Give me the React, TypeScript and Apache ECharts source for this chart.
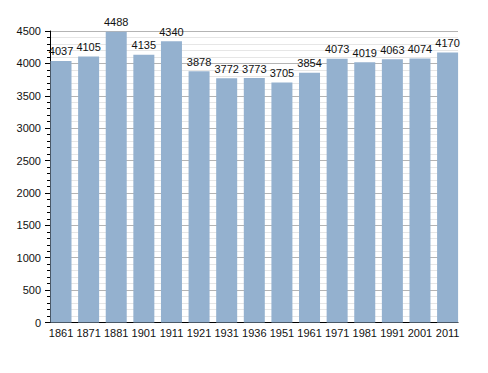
import React, { useEffect, useRef } from "react";
import * as echarts from "echarts";

const years = ["1861", "1871", "1881", "1901", "1911", "1921", "1931", "1936", "1951", "1961", "1971", "1981", "1991", "2001", "2011"];
const population = [4037, 4105, 4488, 4135, 4340, 3878, 3772, 3773, 3705, 3854, 4073, 4019, 4063, 4074, 4170];

const FONT = "Liberation Sans, Arial, sans-serif";

export default function App() {
  const ref = useRef<HTMLDivElement>(null);
  useEffect(() => {
    if (!ref.current) return;
    const chart = echarts.init(ref.current, null, { renderer: "svg" });
    chart.setOption({
      animation: false,
      backgroundColor: "#ffffff",
      grid: [
        { left: 50, right: 30, top: 31, bottom: 50.5 },
        { left: 47.2, right: 26.6, top: 31, bottom: 50.5 },
      ],
      xAxis: [
        {
          type: "category",
          gridIndex: 0,
          data: years,
          axisLine: { show: true, lineStyle: { color: "#000", width: 1 } },
          axisTick: { show: false },
          axisLabel: { show: false },
          splitLine: { show: false },
        },
        {
          type: "category",
          gridIndex: 1,
          data: years,
          axisLine: { show: false },
          axisTick: { show: false },
          axisLabel: { show: true, interval: 0, color: "#111", fontFamily: FONT, fontSize: 11, margin: 5 },
          splitLine: { show: false },
        },
      ],
      yAxis: [
        {
          type: "value",
          gridIndex: 0,
          min: 0,
          max: 4500,
          interval: 500,
          axisLine: { show: true, lineStyle: { color: "#000", width: 1 } },
          axisTick: { show: true, length: 5, lineStyle: { color: "#000" } },
          minorTick: { show: true, splitNumber: 5, length: 3, lineStyle: { color: "#000" } },
          axisLabel: {
            color: "#111",
            fontFamily: FONT,
            fontSize: 11,
            margin: 9,
            formatter: (v: number) => String(v),
          },
          splitLine: { show: true, lineStyle: { color: "#b4b4b4", width: 1 } },
          minorSplitLine: { show: true, lineStyle: { color: "#e6e6e6", width: 1 } },
        },
        {
          type: "value",
          gridIndex: 1,
          min: 0,
          max: 4500,
          interval: 500,
          show: false,
          splitLine: { show: false },
        },
      ],
      series: [
        {
          type: "bar",
          xAxisIndex: 1,
          yAxisIndex: 1,
          data: population,
          barWidth: 21,
          itemStyle: { color: "#94b1cf" },
          label: {
            show: true,
            position: "top",
            distance: 4,
            color: "#111",
            fontFamily: FONT,
            fontSize: 11,
          },
        },
      ],
    });
    return () => chart.dispose();
  }, []);
  return <div ref={ref} style={{ width: 488, height: 373, position: "absolute", left: 0, top: 0 }} />;
}
